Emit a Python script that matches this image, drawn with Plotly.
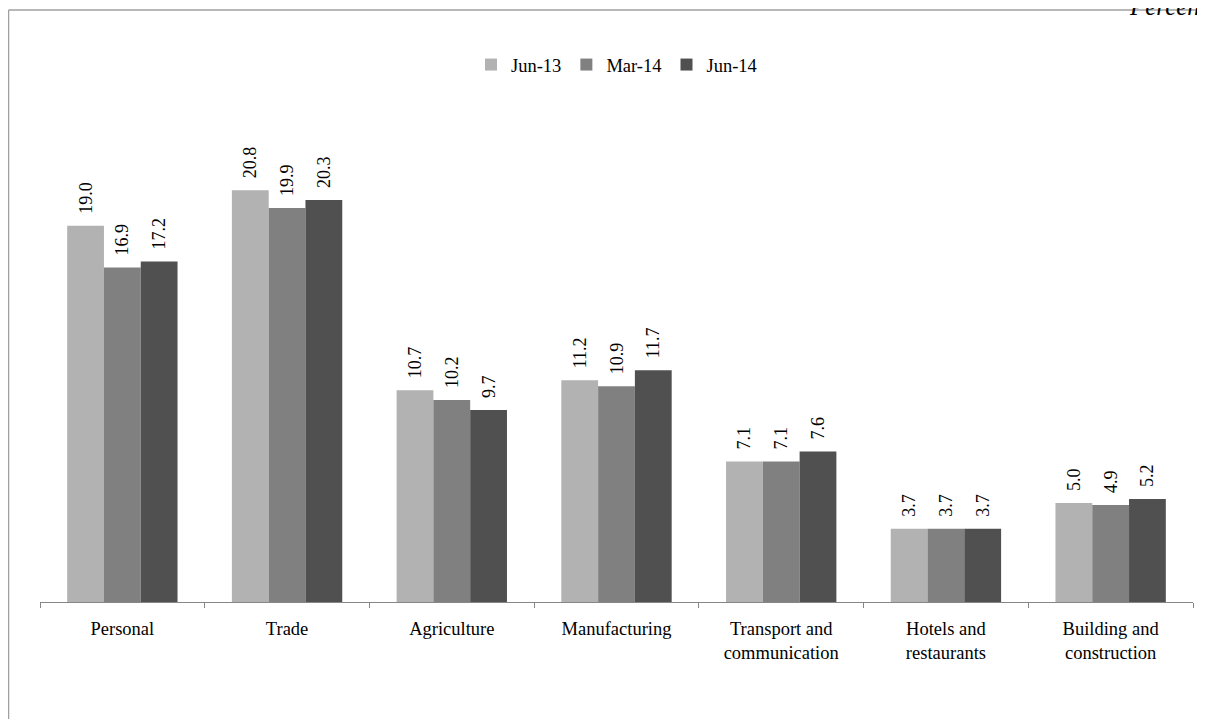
import plotly.graph_objects as go

categories = ["Personal", "Trade", "Agriculture", "Manufacturing",
              "Transport and<br>communication", "Hotels and<br>restaurants",
              "Building and<br>construction"]
series_names = ["Jun-13", "Mar-14", "Jun-14"]
jun13 = [19.0, 20.8, 10.7, 11.2, 7.1, 3.7, 5.0]
mar14 = [16.9, 19.9, 10.2, 10.9, 7.1, 3.7, 4.9]
jun14 = [17.2, 20.3, 9.7, 11.7, 7.6, 3.7, 5.2]
colors = ["#B2B2B2", "#808080", "#505050"]

FONT = "Liberation Serif, Times New Roman, serif"
PAD = "\u00a0\u00a0"  # lifts the rotated labels a little above the bars

fig = go.Figure()
for name, vals, col in zip(series_names, [jun13, mar14, jun14], colors):
    fig.add_trace(go.Bar(
        x=categories, y=vals, name=name,
        marker=dict(color=col, line=dict(width=0)),
        text=[PAD + f"{v:.1f}" for v in vals], textposition="outside",
        textangle=-90, textfont=dict(family=FONT, size=18, color="black"),
        constraintext="none", cliponaxis=False,
    ))

fig.update_layout(
    width=1197, height=711,
    margin=dict(l=32, r=12, t=99, b=117),
    paper_bgcolor="white", plot_bgcolor="white",
    barmode="group", bargap=0.33, bargroupgap=0,
    font=dict(family=FONT, size=18.5, color="black"),
    legend=dict(orientation="h", x=0.5, xanchor="center", y=1.0848, yanchor="middle",
                font=dict(family=FONT, size=18.5), itemwidth=30, traceorder="normal"),
    xaxis=dict(showline=True, linecolor="#868686", linewidth=1,
               ticks="outside", tickson="boundaries", ticklen=5, tickcolor="#868686",
               ticklabelstandoff=10,
               tickfont=dict(family=FONT, size=18.5, color="black"), showgrid=False),
    yaxis=dict(range=[0, 25], visible=False, showgrid=False),
    shapes=[
        dict(type="line", xref="paper", yref="paper", x0=-0.02732, x1=1.2, y0=1.196, y1=1.196,
             line=dict(color="#A0A0A0", width=1.5)),
        dict(type="line", xref="paper", yref="paper", x0=-0.02732, x1=-0.02732, y0=1.196, y1=-0.4,
             line=dict(color="#A0A0A0", width=1.5)),
    ],
    annotations=[
        dict(text="<i>Percent</i>", xref="paper", yref="paper", x=0.9428, y=1.1727,
             xanchor="left", yanchor="bottom", showarrow=False,
             font=dict(family=FONT, size=25, color="black")),
    ],
)

fig.write_html("out.html")
